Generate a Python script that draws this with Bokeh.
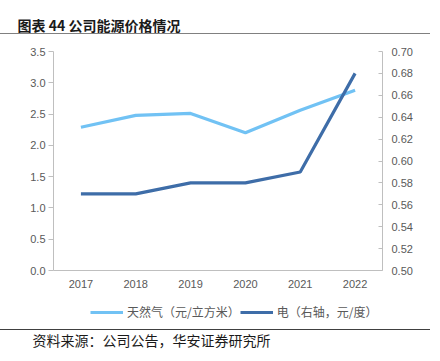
from bokeh.plotting import figure
from bokeh.layouts import column
from bokeh.models import (Range1d, LinearAxis, FactorRange, Legend, LegendItem,
                          FixedTicker, NumeralTickFormatter, Title)
from bokeh.embed import file_html
from bokeh.resources import INLINE

years = ["2017", "2018", "2019", "2020", "2021", "2022"]
gas = [2.29, 2.48, 2.51, 2.20, 2.56, 2.88]
elec = [0.57, 0.57, 0.58, 0.58, 0.59, 0.68]
left_ticks = [0.0, 0.5, 1.0, 1.5, 2.0, 2.5, 3.0, 3.5]
right_ticks = [0.50, 0.52, 0.54, 0.56, 0.58, 0.60, 0.62, 0.64, 0.66, 0.68, 0.70]

title_text = "图表 44 公司能源价格情况"
source_text = "资料来源：公司公告，华安证券研究所"
gas_name = "天然气（元/立方米）"
elec_name = "电（右轴，元/度）"

GAS_C = "#71C2F4"
ELEC_C = "#3E6DA8"
AX_C = "#BFBFBF"
TXT_C = "#595959"
FONT = "Liberation Sans"
CJK = "Noto Sans CJK SC"
W = 432
H1, H2 = 296, 57

# ---------------- main chart
p = figure(width=W, height=H1, output_backend="svg", toolbar_location=None,
           x_range=FactorRange(*years, range_padding=0),
           y_range=Range1d(0, 3.5),
           min_border_left=53, min_border_right=50, min_border_top=51,
           min_border_bottom=26, outline_line_color=None,
           border_fill_color=None, background_fill_color="white")
p.extra_y_ranges = {"r": Range1d(0.5, 0.7)}
p.xgrid.visible = False
p.ygrid.visible = False
p.styles = {
    "background-image": "linear-gradient(#808080, #808080)",
    "background-size": "430px 1px",
    "background-position": "0px 33px",
    "background-repeat": "no-repeat",
}

p.title = Title(text=title_text, text_font=CJK, text_font_size="14px",
                text_font_style="bold", text_color="#1A1A1A", align="left",
                vertical_align="top", offset=-36, standoff=29)

ya = p.yaxis[0]
ya.ticker = FixedTicker(ticks=left_ticks)
ya.formatter = NumeralTickFormatter(format="0.0")
xa = p.xaxis[0]
for ax in (ya, xa):
    ax.axis_line_color = AX_C
    ax.major_tick_line_color = AX_C
    ax.minor_tick_line_color = None
    ax.major_label_text_color = TXT_C
    ax.major_label_text_font = FONT
    ax.major_label_text_font_size = "11px"
ya.major_tick_out = 5
ya.major_tick_in = 0
ya.major_label_standoff = 3
xa.major_tick_line_color = None
xa.major_tick_out = 0
xa.major_label_standoff = 9

ra = LinearAxis(y_range_name="r", ticker=FixedTicker(ticks=right_ticks),
                formatter=NumeralTickFormatter(format="0.00"))
ra.axis_line_color = AX_C
ra.major_tick_line_color = AX_C
ra.minor_tick_line_color = None
ra.major_tick_in = 4
ra.major_tick_out = 0
ra.major_label_text_color = TXT_C
ra.major_label_text_font = FONT
ra.major_label_text_font_size = "11px"
ra.major_label_standoff = 9
p.add_layout(ra, "right")

p.line(years, gas, line_color=GAS_C, line_width=3.2)
p.line(years, elec, line_color=ELEC_C, line_width=3.2, y_range_name="r")

# ---------------- legend + source strip (same series, drawn outside its visible range)
q = figure(width=W, height=H2, output_backend="svg", toolbar_location=None,
           x_range=FactorRange(*years, range_padding=0), y_range=Range1d(-2, -1),
           x_axis_type=None, y_axis_type=None,
           min_border_left=53, min_border_right=50, min_border_top=0,
           min_border_bottom=26, outline_line_color=None,
           border_fill_color=None, background_fill_color=None)
q.styles = {
    "background-image": "linear-gradient(#404040, #404040)",
    "background-size": "430px 1px",
    "background-position": "0px 33px",
    "background-repeat": "no-repeat",
}
k1 = q.line(years, gas, line_color=GAS_C, line_width=3.2)
k2 = q.line(years, elec, line_color=ELEC_C, line_width=3.2)

legend = Legend(items=[LegendItem(label=gas_name, renderers=[k1]),
                       LegendItem(label=elec_name, renderers=[k2])],
                orientation="horizontal", location=(37, 4),
                glyph_width=33, glyph_height=16, label_height=16,
                label_standoff=4, spacing=0, padding=0, margin=0,
                border_line_color=None, background_fill_alpha=0,
                label_text_font=CJK, label_text_font_size="12px",
                label_text_color=TXT_C)
q.add_layout(legend, "center")

src = Title(text=source_text, text_font=CJK, text_font_size="14px",
            text_font_style="normal", text_color="#1A1A1A", align="left",
            offset=-21, standoff=7)
q.add_layout(src, "below")

layout = column(p, q, spacing=0)
open("out.html", "w").write(file_html(layout, INLINE))
